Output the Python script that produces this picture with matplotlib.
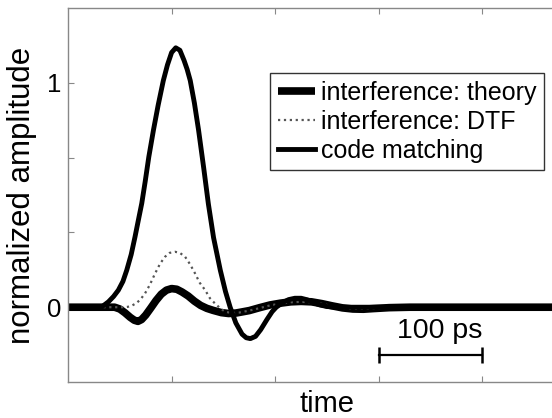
import numpy as np
import matplotlib.pyplot as plt

plt.rcParams['font.family'] = ['Liberation Sans', 'DejaVu Sans']

# time axis in ps
t_cm = [0, 25, 33, 39, 44, 48.6, 53, 56.7, 61, 64.7, 68, 71.2, 74.5, 78, 82.5, 87, 92, 96, 100,
        104, 108, 112, 115, 118, 122, 126, 131, 135.5, 140.5, 147, 152, 156.5, 162, 168, 172, 176,
        181, 186, 192, 197, 201, 207, 213, 219, 225, 231, 237, 243, 250, 260, 500]
y_cm = [0, 0, 0.003, 0.024, 0.048, 0.076, 0.115, 0.165, 0.235, 0.314, 0.39, 0.463, 0.56, 0.67,
        0.79, 0.9, 1.01, 1.08, 1.135, 1.156, 1.145, 1.10, 1.06, 1.01, 0.91, 0.79, 0.62, 0.46,
        0.31, 0.165, 0.07, 0.0, -0.07, -0.12, -0.136, -0.14, -0.13, -0.1, -0.055, -0.02, 0.0,
        0.02, 0.034, 0.04, 0.04, 0.033, 0.02, 0.01, 0.003, 0, 0]

t_th = [0, 40, 45, 50, 55, 60, 64, 67.5, 71, 75, 80, 85, 90, 95, 100, 105, 110, 116, 122, 128,
        134, 140, 148, 155, 162, 168, 175, 185, 195, 205, 215, 225, 235, 245, 255, 265, 275, 285,
        295, 310, 330, 500]
y_th = [0, 0, 0, -0.008, -0.025, -0.045, -0.058, -0.063, -0.055, -0.035, -0.003, 0.03, 0.058,
        0.076, 0.083, 0.08, 0.068, 0.05, 0.027, 0.008, -0.005, -0.014, -0.024, -0.028, -0.026,
        -0.021, -0.015, -0.002, 0.01, 0.018, 0.024, 0.026, 0.024, 0.016, 0.006, -0.003, -0.008,
        -0.009, -0.006, -0.002, 0, 0]

t_dtf = [0, 50, 55, 58, 62, 66, 70, 74.4, 79, 84, 89, 93.7, 98, 103.4, 108, 113, 118, 122.7,
         127, 132.4, 137, 142, 147, 151.7, 158, 165, 175, 185, 195, 205, 215, 225, 235, 245, 255,
         265, 275, 290, 310, 330, 500]
y_dtf = [0, 0, 0, 0.002, 0.008, 0.018, 0.035, 0.062, 0.1, 0.15, 0.195, 0.225, 0.242, 0.247,
         0.242, 0.225, 0.19, 0.15, 0.11, 0.076, 0.04, 0.016, -0.005, -0.02, -0.026, -0.024,
         -0.015, -0.004, 0.008, 0.016, 0.022, 0.024, 0.022, 0.015, 0.005, -0.003, -0.007,
         -0.006, -0.002, 0, 0]

# scale bar
bar_start = 300
bar_len = 100
bar_y = -0.214

fig = plt.figure(figsize=(5.52, 4.18), dpi=100)
ax = fig.add_axes([0.1232, 0.0861, 0.9384, 0.8947])

ax.plot(t_th, y_th, color='k', lw=5.5, solid_capstyle='butt', label='interference: theory')
ax.plot(t_dtf, y_dtf, color='#555555', lw=1.6, ls=':', label='interference: DTF')
ax.plot(t_cm, y_cm, color='k', lw=3.5, label='code matching')

# scale bar
ax.plot([bar_start, bar_start + bar_len], [bar_y, bar_y], color='k', lw=1.6)
ax.plot([bar_start, bar_start + bar_len], [bar_y, bar_y], ls='none', marker='|',
        ms=12, mew=1.8, color='k')
ax.text(bar_start + bar_len * 0.59, bar_y + 0.108, '100 ps', ha='center', va='center',
        fontsize=20.5)

ax.set_xlim(0, 500)
ax.set_ylim(-1 / 3, 4 / 3)
ax.set_xticks([100, 200, 300, 400])
ax.set_xticklabels([])
ax.set_yticks([0, 1 / 3, 2 / 3, 1])
ax.set_yticklabels(['0', '', '', '1'], fontsize=18.5)
ax.tick_params(direction='in', length=4, color='#888888', top=True, right=True, pad=5)
for s in ax.spines.values():
    s.set_color('#888888')
    s.set_linewidth(1.0)

ax.set_xlabel('time', fontsize=21, labelpad=1)
ax.set_ylabel('normalized amplitude', fontsize=22.5, labelpad=7)

leg = ax.legend(loc='upper left', bbox_to_anchor=(0.39, 0.826), borderaxespad=0,
                fontsize=18, handlelength=1.5, handletextpad=0.25, labelspacing=0.2,
                borderpad=0.3, fancybox=False, framealpha=1)
leg.get_frame().set_edgecolor('#333333')
leg.get_frame().set_linewidth(1.0)

fig.savefig('out.png', dpi=100)
